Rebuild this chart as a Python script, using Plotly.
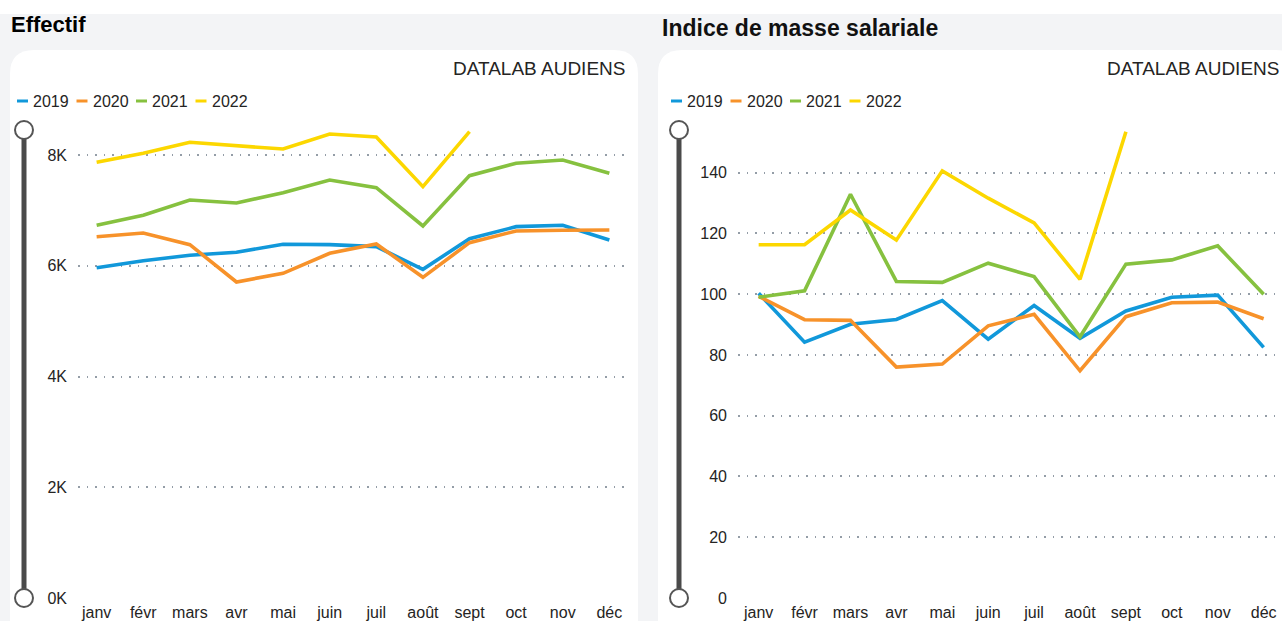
import plotly.graph_objects as go

# ---------------- data ----------------
months = ["janv", "févr", "mars", "avr", "mai", "juin", "juil", "août", "sept", "oct", "nov", "déc"]
years = ["2019", "2020", "2021", "2022"]

effectif_2019 = [5965, 6091, 6189, 6243, 6388, 6381, 6345, 5935, 6489, 6706, 6731, 6465]
effectif_2020 = [6525, 6591, 6381, 5707, 5864, 6225, 6393, 5791, 6417, 6628, 6640, 6646]
effectif_2021 = [6731, 6911, 7187, 7133, 7320, 7549, 7410, 6718, 7627, 7850, 7910, 7669]
effectif_2022 = [7868, 8030, 8229, 8162, 8108, 8379, 8325, 7428, 8421]

indice_2019 = [100.3, 84.2, 90.1, 91.7, 97.9, 85.2, 96.3, 85.5, 94.5, 99.0, 99.7, 82.5]
indice_2020 = [99.3, 91.6, 91.4, 76.0, 77.0, 89.6, 93.4, 74.8, 92.6, 97.2, 97.4, 91.9]
indice_2021 = [99.0, 101.1, 132.9, 104.2, 103.9, 110.2, 105.8, 86.0, 109.9, 111.3, 115.9, 100.0]
indice_2022 = [116.3, 116.3, 127.7, 117.8, 140.6, 131.6, 123.5, 104.9, 153.5]

effectif_ticks = [0, 2000, 4000, 6000, 8000]
effectif_ticktext = ["0K", "2K", "4K", "6K", "8K"]
indice_ticks = [0, 20, 40, 60, 80, 100, 120, 140]

titles = ["Effectif", "Indice de masse salariale"]
source = "DATALAB AUDIENS"

# ---------------- style ----------------
colors = ["#1198DA", "#F7922A", "#86C13F", "#FCD700"]
W, H = 1282, 621
FONT = "Liberation Sans, Arial, sans-serif"
TXT = "#252423"


def px(x):
    return x / W


def py(y):
    return 1 - y / H


effectif = [effectif_2019, effectif_2020, effectif_2021, effectif_2022]
indice = [indice_2019, indice_2020, indice_2021, indice_2022]

fig = go.Figure()
for i, yr in enumerate(years):
    fig.add_trace(go.Scatter(x=months[:len(effectif[i])], y=effectif[i], name=yr, mode="lines",
                             line=dict(color=colors[i], width=3.6), xaxis="x", yaxis="y",
                             showlegend=False))
for i, yr in enumerate(years):
    fig.add_trace(go.Scatter(x=months[:len(indice[i])], y=indice[i], name=yr, mode="lines",
                             line=dict(color=colors[i], width=3.6), xaxis="x2", yaxis="y2",
                             showlegend=False))

# ---------------- background / cards ----------------
shapes = []
shapes.append(dict(type="rect", xref="paper", yref="paper", x0=0, x1=1, y0=-0.05, y1=py(14),
                   fillcolor="#F3F4F6", line=dict(width=0), layer="below"))


def rounded(x0, y0, x1, y1, r):
    pts = [
        f"M{px(x0)},{py(y1)}",
        f"L{px(x0)},{py(y0 + r)}",
        f"Q{px(x0)},{py(y0)} {px(x0 + r)},{py(y0)}",
        f"L{px(x1 - r)},{py(y0)}",
        f"Q{px(x1)},{py(y0)} {px(x1)},{py(y0 + r)}",
        f"L{px(x1)},{py(y1)}",
        "Z",
    ]
    return " ".join(pts)


for (x0, x1) in [(10, 638), (658, 1300)]:
    shapes.append(dict(type="path", xref="paper", yref="paper", path=rounded(x0, 50, x1, 640, 24),
                       fillcolor="white", line=dict(width=0), layer="below"))

# range sliders (visual)
for sx in [24, 679]:
    shapes.append(dict(type="line", xref="paper", yref="paper", x0=px(sx), x1=px(sx),
                       y0=py(130), y1=py(598), line=dict(color="#4A4A4A", width=5)))
    for cy in [130, 598]:
        shapes.append(dict(type="circle", xref="paper", yref="paper",
                           x0=px(sx - 9), x1=px(sx + 9), y0=py(cy + 9), y1=py(cy - 9),
                           fillcolor="white", line=dict(color="#555555", width=2)))

annotations = []
annotations.append(dict(text=f"<b>{titles[0]}</b>", x=px(9), y=py(25), xref="paper", yref="paper",
                        xanchor="left", yanchor="middle", showarrow=False,
                        font=dict(family=FONT, size=22, color="#000000")))
annotations.append(dict(text=f"<b>{titles[1]}</b>", x=px(660), y=py(28), xref="paper", yref="paper",
                        xanchor="left", yanchor="middle", showarrow=False,
                        font=dict(family=FONT, size=23, color="#111111")))
for rx in [627, 1281]:
    annotations.append(dict(text=source, x=px(rx), y=py(68), xref="paper", yref="paper",
                            xanchor="right", yanchor="middle", showarrow=False,
                            font=dict(family=FONT, size=19, color=TXT)))

# legends (manual, compact like the original)
for lx0 in [17, 671]:
    for i, yr in enumerate(years):
        xs = lx0 + i * 59.5
        shapes.append(dict(type="line", xref="paper", yref="paper", x0=px(xs), x1=px(xs + 11),
                           y0=py(101), y1=py(101), line=dict(color=colors[i], width=3)))
        annotations.append(dict(text=yr, x=px(xs + 14), y=py(101), xref="paper", yref="paper",
                                xanchor="left", yanchor="middle", showarrow=False,
                                font=dict(family=FONT, size=16, color=TXT)))

grid = dict(showgrid=True, gridcolor="#949DA7", gridwidth=1.5, griddash="1.5px,7px",
            zeroline=False, showline=False, ticks="", ticklabelstandoff=10, automargin=False,
            tickfont=dict(family=FONT, size=16, color=TXT))
xcommon = dict(type="category", categoryorder="array", categoryarray=months,
               showgrid=False, zeroline=False, showline=False, ticks="", automargin=False,
               ticklabelstandoff=3,
               tickfont=dict(family=FONT, size=16, color=TXT), tickangle=0)

ybot, ytop = py(598), py(125)

fig.update_layout(
    width=W, height=H, autosize=False,
    margin=dict(l=0, r=0, t=0, b=0, autoexpand=False),
    paper_bgcolor="white", plot_bgcolor="rgba(0,0,0,0)",
    showlegend=False,
    hovermode=False,
    xaxis=dict(domain=[px(78), px(628)], range=[-0.4, 11.4], anchor="y", **xcommon),
    yaxis=dict(domain=[ybot, ytop], range=[0, 473 / 55.375 * 1000], anchor="x",
               tickvals=effectif_ticks, ticktext=effectif_ticktext, **grid),
    xaxis2=dict(domain=[px(738), 1.0], range=[-0.45, 11.4], anchor="y2", **xcommon),
    yaxis2=dict(domain=[ybot, ytop], range=[0, 473 / 3.038], anchor="x2",
                tickvals=indice_ticks, **grid),
    shapes=shapes,
    annotations=annotations,
)

fig.write_html("out.html", config={"displayModeBar": False},
               post_script="document.body.style.margin='0';document.body.style.overflow='hidden';")
